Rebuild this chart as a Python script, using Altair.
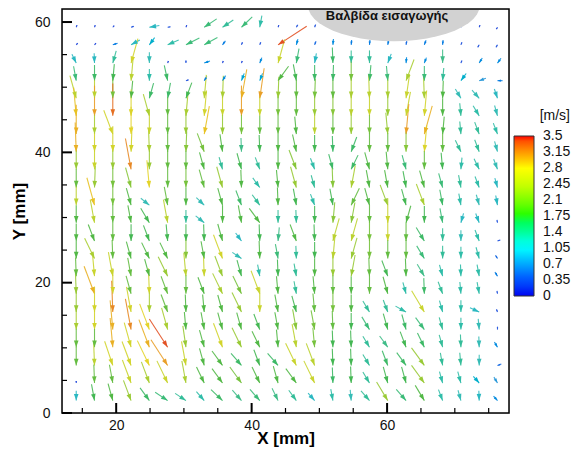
import math
import altair as alt
import pandas as pd

# ---------------- data ----------------
X_GRID = [14.1, 16.8, 19.5, 22.2, 24.9, 27.6, 30.3, 33.0, 35.7, 38.5, 41.2, 43.9,
          46.6, 49.3, 52.0, 54.7, 57.4, 60.1, 62.8, 65.5, 68.2, 70.9, 73.6, 76.3]
Y_GRID = [59.2, 56.5, 53.7, 51.0, 48.3, 45.6, 42.8, 40.1, 37.4, 34.6, 31.9,
          29.2, 26.4, 23.7, 21.0, 18.3, 15.5, 12.8, 10.1, 7.3, 4.6, 1.9]

# speed [m/s] per grid row (top to bottom) and column (left to right)
SPEED = [
    [0.2,0.2,0.2,0.3,1.0,0.3,0.2,1.5,1.3,1.5,1.2,0.2,0.3,0.3,0.3,0.3,0.3,0.3,0.3,0.3,0.3,0.3,0.2,0.2],
    [0.2,0.2,0.5,1.0,0.9,1.2,1.5,1.5,0.5,0.3,0.3,3.4,0.6,0.4,0.6,0.5,0.5,0.5,0.4,0.5,0.5,0.3,0.3,0.3],
    [1.0,1.0,1.3,2.6,1.1,0.2,0.3,0.6,0.2,0.2,0.6,2.5,1.5,1.0,1.6,1.3,1.3,1.0,0.6,0.6,1.4,0.3,0.6,0.6],
    [1.5,1.6,1.7,2.4,1.2,1.6,0.3,0.5,0.6,0.8,0.8,1.8,1.7,1.6,1.6,2.0,1.6,1.5,2.3,1.5,1.3,0.9,0.7,0.5],
    [2.4,2.4,2.0,1.8,1.6,1.6,1.7,2.4,2.3,3.0,3.1,2.2,1.9,2.0,1.9,2.3,2.4,2.3,2.5,2.3,1.8,1.1,1.1,1.0],
    [2.9,3.1,3.3,2.7,2.3,1.9,2.3,2.6,2.5,3.1,2.5,2.0,1.9,2.2,2.1,2.4,2.5,2.2,2.5,2.6,1.8,1.3,1.2,1.1],
    [3.0,2.3,2.6,2.8,2.5,1.9,2.2,2.9,2.2,2.0,1.9,1.9,1.8,2.4,1.9,2.2,2.0,2.2,3.1,3.0,1.8,1.3,1.3,1.2],
    [3.0,2.6,2.6,2.6,2.3,1.9,2.1,2.0,1.8,1.4,1.7,1.8,1.8,1.7,1.6,1.6,1.9,1.9,2.1,2.7,1.9,1.3,1.3,1.1],
    [2.2,2.5,2.2,3.2,2.2,1.9,1.9,1.8,1.3,1.7,1.3,1.8,2.1,1.2,1.6,1.6,1.8,1.8,1.5,1.9,1.7,1.2,1.2,1.1],
    [1.9,2.2,2.0,2.1,2.8,1.9,2.0,1.9,2.2,1.8,1.2,1.8,2.2,1.3,2.1,2.3,1.8,1.8,1.7,1.8,1.5,1.3,1.2,1.0],
    [2.4,2.9,2.0,1.8,1.1,1.9,1.8,1.1,1.8,1.6,1.3,1.8,1.7,1.2,1.7,1.9,1.8,2.2,1.7,2.3,1.6,1.2,1.1,1.0],
    [1.8,2.4,1.9,1.8,1.7,2.4,1.3,1.1,1.8,1.8,1.8,1.3,1.3,1.7,2.1,2.1,1.9,2.5,1.8,1.7,1.5,1.0,1.0,0.3],
    [1.8,1.8,1.9,1.7,1.7,1.7,1.7,1.7,1.8,1.0,1.7,1.4,1.8,1.7,2.4,2.4,2.0,2.5,1.9,1.6,1.3,1.1,1.2,0.3],
    [1.8,2.3,1.9,1.8,1.8,1.8,2.1,1.8,2.6,1.1,1.8,1.5,1.3,1.7,2.4,2.2,2.0,1.9,1.9,1.5,1.3,1.2,1.2,0.4],
    [1.9,2.5,2.5,1.9,1.8,2.2,2.4,2.5,2.2,1.7,1.2,1.7,1.3,1.8,2.2,2.2,1.9,1.7,1.8,1.4,1.2,1.2,1.2,0.5],
    [2.2,3.0,2.6,1.9,2.6,1.9,1.9,1.8,2.3,2.0,2.5,1.8,1.3,1.8,1.9,1.8,1.9,1.8,1.2,1.6,1.3,1.2,1.2,0.3],
    [2.2,2.6,3.2,2.6,2.3,1.9,1.8,1.8,1.8,2.2,2.5,1.8,1.7,1.9,2.0,1.8,1.3,1.3,1.2,2.5,1.2,1.2,1.0,0.3],
    [2.3,2.6,3.0,3.2,2.8,2.3,1.8,1.8,1.8,1.8,1.7,1.8,2.1,2.0,1.9,1.7,1.5,1.7,1.6,1.5,1.3,1.2,1.1,0.3],
    [1.9,1.9,3.0,2.6,3.0,3.4,2.2,1.8,2.6,2.2,1.8,1.8,2.4,2.0,1.7,1.7,1.3,1.4,1.7,1.6,1.3,1.3,1.1,0.6],
    [1.9,2.4,2.6,2.6,2.8,3.1,2.5,1.8,1.8,1.6,1.7,1.6,2.5,2.4,1.7,1.7,1.3,1.6,1.6,2.2,1.3,1.3,1.1,0.4],
    [0.2,1.9,1.9,2.5,2.3,2.5,2.3,1.8,1.8,2.0,1.8,1.8,1.8,2.5,1.6,1.7,1.3,1.7,1.7,2.2,1.2,1.2,0.9,0.7],
    [1.0,1.7,1.8,2.2,1.6,1.5,1.3,1.2,1.6,1.4,1.5,1.4,1.3,1.0,1.2,1.1,1.3,2.2,1.5,1.8,1.2,1.1,1.0,0.6],
]

# flow direction, degrees clockwise from "up" (180 = straight down)
ANGLE = [
    [200,200,220,250,260,260,200,235,235,225,190,200,210,200,200,200,200,200,200,200,200,200,200,30],
    [220,220,250,240,215,245,242,240,215,200,200,236,195,200,185,185,185,190,190,200,185,200,30,30],
    [155,178,195,195,180,200,180,250,200,200,200,195,190,190,178,180,180,200,185,200,180,200,210,215],
    [170,180,185,185,180,168,250,210,210,200,200,215,170,180,182,180,185,175,200,180,185,215,250,270],
    [165,180,180,185,195,190,200,185,182,190,188,182,180,182,180,180,178,180,188,178,182,150,140,162],
    [175,180,180,180,165,180,185,185,180,180,180,180,180,180,180,180,180,180,190,185,180,175,150,165],
    [180,180,160,180,180,180,180,190,180,180,180,180,175,180,180,180,180,175,185,195,185,175,160,160],
    [178,180,180,182,178,180,182,160,172,178,178,180,168,180,178,200,180,180,180,185,180,155,160,165],
    [180,180,180,170,180,180,180,165,165,165,160,180,160,160,165,205,165,175,165,180,175,185,155,160],
    [180,182,180,165,175,180,180,165,165,178,145,175,165,165,178,190,170,170,170,165,165,170,160,165],
    [180,165,180,165,130,170,180,135,165,160,145,178,170,160,170,205,165,160,165,160,170,170,165,170],
    [180,170,180,170,150,170,180,130,180,170,145,180,178,180,185,190,180,180,195,180,170,195,160,170],
    [180,160,180,180,160,175,180,178,165,145,178,185,160,178,195,195,180,180,180,150,180,180,160,250],
    [180,155,178,165,155,155,180,170,160,125,178,170,178,180,185,195,180,180,180,150,180,180,165,150],
    [178,175,170,170,165,155,175,178,160,165,170,178,170,180,180,190,178,160,178,150,165,178,170,150],
    [178,160,180,165,178,160,180,160,155,155,160,175,170,175,180,180,180,165,165,178,160,175,170,170],
    [180,180,178,170,180,160,178,175,165,155,180,170,165,175,180,180,150,160,120,150,165,180,115,160],
    [180,180,175,170,160,165,175,170,165,165,160,170,170,170,178,180,150,165,165,145,165,180,175,180],
    [180,180,175,165,160,148,172,165,160,155,155,175,170,175,178,178,150,145,160,155,165,178,178,150],
    [180,178,162,160,155,148,170,165,145,140,160,140,155,160,178,178,150,160,145,145,170,175,180,250],
    [180,178,170,160,160,155,170,155,145,145,155,165,145,155,178,178,150,165,165,145,165,165,140,150],
    [180,170,165,160,145,125,125,140,135,140,140,155,145,140,170,175,140,150,140,150,160,165,178,140],
]

LEGEND_VALUES = [0, 0.35, 0.7, 1.05, 1.4, 1.75, 2.1, 2.45, 2.8, 3.15, 3.5]
# colour-bar stops (ends nudged a hair outside 0 and 3.5 so end labels stay centred)
BAR_STOPS = [-0.01, 0.35, 0.7, 1.05, 1.4, 1.75, 2.1, 2.45, 2.8, 3.15, 3.51]
BAR_COLORS = ["#0000f0", "#0050ff", "#00a8ff", "#00ffff", "#00ff99", "#00ff00",
              "#77ff00", "#ccff00", "#ffff00", "#ff9900", "#ff0000"]
ARROW_COLORS = ["#2a2ad0", "#2a5ee0", "#2a98d8", "#3cbcbc", "#40bc88", "#48b648",
                "#88c63a", "#c4d430", "#e4d42a", "#e8962a", "#dc2a2a"]

X_MAJOR = [20, 40, 60]
X_MINOR = [15, 25, 30, 35, 45, 50, 55, 65, 70, 75]
Y_MAJOR = [0, 20, 40, 60]
Y_MINOR = [5, 10, 15, 25, 30, 35, 45, 50, 55]

VALVE_X = [61.0]
VALVE_Y = [62.6]
VALVE_LABEL = ["Βαλβίδα εισαγωγής"]
LABEL_X = [60.0]
LABEL_Y = [60.9]

# ---------------- layout / style ----------------
FONT = "Liberation Sans"
W, H = 447, 404
X_DOM = [12, 78]
Y_DOM = [0, 62]
SX = W / (X_DOM[1] - X_DOM[0])
SY = H / (Y_DOM[1] - Y_DOM[0])
MM_PER_MS = 1.5          # arrow length per m/s
HEAD_SIZE = 50

HEAD_PATH = "M0,-1L0.65,0.9L-0.65,0.9Z"
ell_pts = []
for i in range(48):
    t = 2 * math.pi * i / 48
    ell_pts.append(f"{math.cos(t):.4f},{0.42 * math.sin(t):.4f}")
ELLIPSE_PATH = "M" + "L".join(ell_pts) + "Z"

rows = []
for k, yy in enumerate(Y_GRID):
    for c, xx in enumerate(X_GRID):
        s = SPEED[k][c]
        a = math.radians(ANGLE[k][c])
        ux, uy = math.sin(a), math.cos(a)
        L = s * MM_PER_MS
        sa = math.degrees(math.atan2(ux * SX, uy * SY)) % 360
        hs = HEAD_SIZE if s >= 1.0 else max(5.0, HEAD_SIZE * s * s)
        r = math.sqrt(hs) / 2
        rows.append({
            "x0": xx - L * ux, "y0": yy - L * uy, "x1": xx, "y1": yy,
            "hx": xx - r * math.sin(math.radians(sa)) / SX,
            "hy": yy - r * math.cos(math.radians(sa)) / SY,
            "sa": sa, "hs": hs, "speed": s,
        })
df = pd.DataFrame(rows)

XS = alt.Scale(domain=X_DOM, nice=False, zero=False)
YS = alt.Scale(domain=Y_DOM, nice=False, zero=False)
XAX = alt.Axis(title="X [mm]", values=X_MAJOR, ticks=False, tickSize=0, domain=False,
               grid=False, labelFont=FONT, labelFontSize=14, labelColor="#111",
               labelPadding=5, titleFont=FONT, titleFontSize=17, titleFontWeight="bold",
               titleColor="#000", titleBaseline="alphabetic", titleY=30, labelFlush=False)
YAX = alt.Axis(title="Y [mm]", values=Y_MAJOR, ticks=False, tickSize=0, domain=False,
               grid=False, labelFont=FONT, labelFontSize=14, labelColor="#111",
               labelPadding=12, titleFont=FONT, titleFontSize=17, titleFontWeight="bold",
               titleColor="#000", titlePadding=6, labelFlush=False)


def X(f):
    return alt.X(f, type="quantitative", scale=XS, axis=XAX)


def Y(f):
    return alt.Y(f, type="quantitative", scale=YS, axis=YAX)


arrow_scale = alt.Scale(domain=LEGEND_VALUES, range=ARROW_COLORS)

lines = alt.Chart(df).mark_rule(strokeWidth=1.1, opacity=0.9).encode(
    x=X("x0"), y=Y("y0"), x2="x1", y2="y1",
    stroke=alt.Stroke("speed:Q", scale=arrow_scale, legend=None),
)

heads = alt.Chart(df).mark_point(shape=HEAD_PATH, filled=True, strokeWidth=0, opacity=1).encode(
    x=X("hx"), y=Y("hy"),
    fill=alt.Fill("speed:Q", scale=arrow_scale, legend=None),
    angle=alt.Angle("sa:Q", scale=None),
    size=alt.Size("hs:Q", scale=None),
)

legend_layer = alt.Chart(df).mark_point(opacity=0).encode(
    x=X("x1"), y=Y("y1"),
    color=alt.Color(
        "speed:Q",
        scale=alt.Scale(domain=BAR_STOPS, range=BAR_COLORS),
        legend=alt.Legend(
            title="[m/s]", orient="none", legendX=452, legendY=100,
            direction="vertical", gradientLength=160, gradientThickness=20,
            values=LEGEND_VALUES, labelExpr="'' + datum.value", labelOverlap=False,
            labelFont=FONT, labelFontSize=14, labelColor="#111", labelOffset=9,
            titleFont=FONT, titleFontSize=14, titleFontWeight="normal",
            titleColor="#111", titleAnchor="end", titlePadding=13,
            gradientStrokeColor="#333", gradientStrokeWidth=1, padding=0,
        ),
    ),
)

valve = alt.Chart(pd.DataFrame({"x": VALVE_X, "y": VALVE_Y})).mark_point(
    shape=ELLIPSE_PATH, filled=True, color="#d2d2d2", opacity=1, size=172 ** 2,
    strokeWidth=0, clip=True,
).encode(x=X("x"), y=Y("y"))

valve_text = alt.Chart(pd.DataFrame({"x": LABEL_X, "y": LABEL_Y, "t": VALVE_LABEL})).mark_text(
    font=FONT, fontSize=13, fontWeight="bold", color="#111",
).encode(x=X("x"), y=Y("y"), text="t:N")

xmaj = alt.Chart(pd.DataFrame({"v": X_MAJOR})).mark_rule(color="black", strokeWidth=2).encode(
    x=X("v"), y=alt.value(H), y2=alt.value(H - 10))
xmin = alt.Chart(pd.DataFrame({"v": X_MINOR})).mark_rule(color="black", strokeWidth=1.2).encode(
    x=X("v"), y=alt.value(H), y2=alt.value(H - 5))
ymaj = alt.Chart(pd.DataFrame({"v": Y_MAJOR})).mark_rule(color="black", strokeWidth=2).encode(
    y=Y("v"), x=alt.value(0), x2=alt.value(10))
ymin = alt.Chart(pd.DataFrame({"v": Y_MINOR})).mark_rule(color="black", strokeWidth=1.2).encode(
    y=Y("v"), x=alt.value(0), x2=alt.value(5))

frame = alt.Chart(pd.DataFrame({"v": [0]})).mark_rect(
    filled=False, stroke="black", strokeWidth=1.5).encode(
    x=alt.value(0), x2=alt.value(W), y=alt.value(0), y2=alt.value(H))

chart = alt.layer(
    lines, heads, legend_layer, valve, valve_text, xmaj, xmin, ymaj, ymin, frame
).resolve_scale(
    fill="independent", stroke="independent", color="independent"
).properties(
    width=W, height=H,
    autosize=alt.AutoSizeParams(type="none"),
    padding={"left": 54, "top": 1, "right": 62, "bottom": 34},
).configure_view(stroke=None).configure(background="white")

chart.save("out.html", embed_options={"renderer": "svg", "actions": False})
